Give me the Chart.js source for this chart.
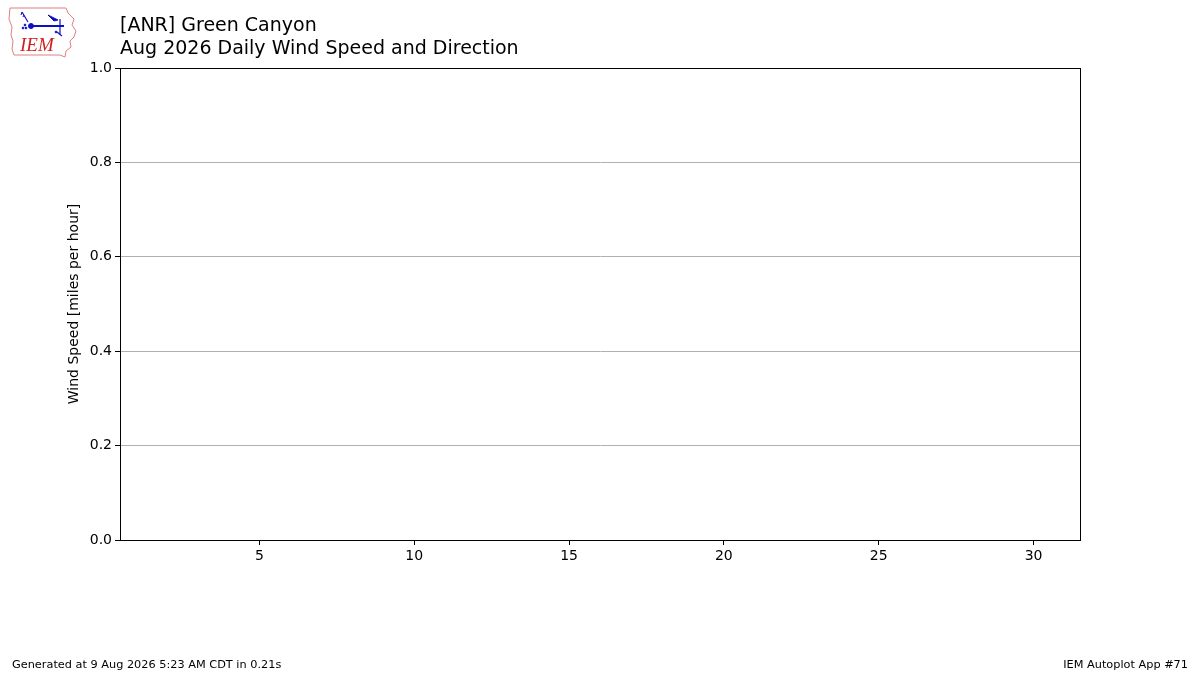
<!DOCTYPE html>
<html>
<head>
<meta charset="utf-8">
<script src="https://cdn.jsdelivr.net/npm/chart.js@4"></script>
<style>
  html, body { margin: 0; padding: 0; background: #fff; }
  #wrap { position: relative; width: 1200px; height: 675px; font-family: "DejaVu Sans", sans-serif; }
  #chart { position: absolute; left: 0; top: 0; }
  .title { position: absolute; left: 120px; font-size: 19px; color: #000; white-space: nowrap; }
  .foot { position: absolute; top: 658px; font-size: 11.3px; color: #000; white-space: nowrap; }
  #logo { position: absolute; left: 8px; top: 5px; }
</style>
</head>
<body>
<div id="wrap">
  <canvas id="chart" width="1200" height="675"></canvas>
  <svg id="logo" width="72" height="54" viewBox="0 0 72 54">
    <path d="M2,3 L58,3 L60,8 L66,14 L64,20 L68,26 L66,32 L62,36 L63,42 L58,46 L57,52 L52,50 L6,50 L4,44 L5,36 L3,30 L4,22 L1,14 Z"
          fill="none" stroke="#e08080" stroke-width="1"/>
    <g stroke="#1010c0" fill="#1010c0">
      <line x1="22" y1="21" x2="56" y2="21" stroke-width="2"/>
      <circle cx="23" cy="21" r="2.5"/>
      <path d="M14,7 L20,17" stroke-width="1.2" fill="none"/>
      <path d="M14,7 L13,10 M16,10 L15,12" stroke-width="1" fill="none"/>
      <path d="M40,10 L50,15 L46,16 Z"/>
      <path d="M52,14 L52,30 M49,27 L54,31" stroke-width="1.2" fill="none"/>
      <circle cx="17" cy="20" r="0.9"/><circle cx="15" cy="23" r="0.9"/><circle cx="18" cy="23" r="0.9"/>
      <circle cx="48" cy="27" r="0.9"/>
    </g>
    <text x="12" y="46" font-family="Liberation Serif, serif" font-style="italic" font-size="19" fill="#d02020">IEM</text>
  </svg>
  <div class="title" style="top:13px">[ANR] Green Canyon</div>
  <div class="title" style="top:36px">Aug 2026 Daily Wind Speed and Direction</div>
  <div class="foot" style="left:12px">Generated at 9 Aug 2026 5:23 AM CDT in 0.21s</div>
  <div class="foot" style="right:12px">IEM Autoplot App #71</div>
</div>
<script>
// no observations for this month yet
const days = [];
const speeds = [];
const directions = [];
const xTicks = [5, 10, 15, 20, 25, 30];
const yTicks = [0, 0.2, 0.4, 0.6, 0.8, 1.0];

const frame = {
  id: 'frame',
  afterDraw(chart) {
    const a = chart.chartArea, ctx = chart.ctx;
    ctx.save();
    ctx.strokeStyle = '#000';
    ctx.lineWidth = 1;
    ctx.strokeRect(Math.round(a.left) + 0.5, Math.round(a.top) + 0.5,
                   Math.round(a.right - a.left), Math.round(a.bottom - a.top));
    ctx.restore();
  }
};

new Chart(document.getElementById('chart'), {
  type: 'line',
  data: {
    labels: days,
    datasets: [{ label: 'Wind Speed', data: days.map((d, i) => ({ x: d, y: speeds[i] })), borderColor: '#000', pointRadius: 0 }]
  },
  options: {
    responsive: false,
    animation: false,
    layout: { padding: { top: 68, right: 120, left: 60, bottom: 0 } },
    plugins: { legend: { display: false }, tooltip: { enabled: false } },
    scales: {
      x: {
        type: 'linear', min: 0.5, max: 31.5,
        afterBuildTicks: s => { s.ticks = xTicks.map(v => ({ value: v })); },
        afterFit: s => { s.height = 135; },
        grid: { drawOnChartArea: false, tickColor: '#000', tickLength: 5 },
        border: { color: '#000' },
        ticks: { color: '#000', font: { family: 'DejaVu Sans', size: 14 }, padding: 3, maxRotation: 0 }
      },
      y: {
        min: 0, max: 1,
        afterBuildTicks: s => { s.ticks = yTicks.map(v => ({ value: v })); },
        afterFit: s => { s.width = 60; },
        grid: { color: '#b0b0b0', lineWidth: 1, tickColor: '#000', tickLength: 5 },
        border: { color: '#000' },
        ticks: { color: '#000', font: { family: 'DejaVu Sans', size: 14 }, padding: 3, callback: v => v.toFixed(1) },
        title: { display: true, text: 'Wind Speed [miles per hour]', color: '#000',
                 font: { family: 'DejaVu Sans', size: 14 }, padding: { top: 6, bottom: 0 } }
      }
    }
  },
  plugins: [frame]
});
</script>
</body>
</html>
